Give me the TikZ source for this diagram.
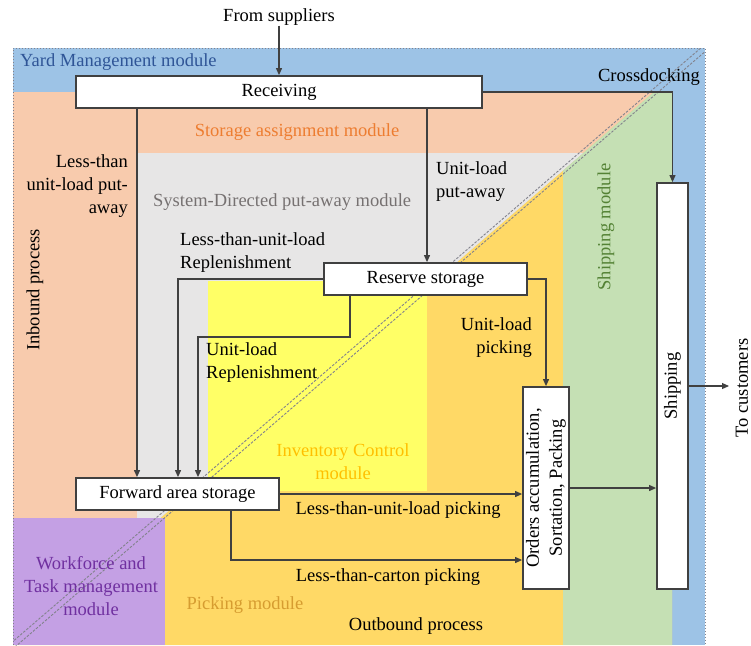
\documentclass[tikz,border=0pt]{standalone}
\usepackage{fontspec}
\setmainfont{LiberationSerif}[Extension=.ttf, UprightFont=*-Regular, BoldFont=*-Bold, ItalicFont=*-Italic, BoldItalicFont=*-BoldItalic]
\usetikzlibrary{arrows.meta}
\definecolor{cBlue}{RGB}{157,195,230}
\definecolor{cSalmon}{RGB}{248,203,173}
\definecolor{cGray}{RGB}{231,230,230}
\definecolor{cYellow}{RGB}{255,255,102}
\definecolor{cOrange}{RGB}{255,217,102}
\definecolor{cGreen}{RGB}{197,224,180}
\definecolor{cPurple}{RGB}{196,160,228}
\definecolor{tYard}{RGB}{47,85,151}
\definecolor{tStor}{RGB}{237,125,49}
\definecolor{tSys}{RGB}{118,113,113}
\definecolor{tInv}{RGB}{255,192,0}
\definecolor{tShip}{RGB}{84,130,53}
\definecolor{tWork}{RGB}{112,48,160}
\definecolor{tPick}{RGB}{214,156,48}
\definecolor{lineC}{RGB}{64,64,64}
\definecolor{diagC}{RGB}{130,130,140}
\newcommand\mylbl{\fontsize{18.5}{23}\selectfont}
\begin{document}
\begin{tikzpicture}[x=1pt,y=-1pt,
  box/.style={draw=lineC, line width=1.8pt, fill=white, inner sep=0pt, font=\mylbl, align=center},
  conn/.style={draw=lineC, line width=1.1pt, -{Triangle[length=7pt,width=6pt]}},
  lbl/.style={font=\mylbl, inner sep=0pt},
  diagline/.style={draw=diagC, line width=0.9pt, dash pattern=on 2.5pt off 1.5pt}]
\useasboundingbox (0,0) rectangle (751,645);
% background regions
\fill[cBlue] (13,48) rectangle (705,645);
\fill[cSalmon] (13,92) -- (654,92) -- (13,645) -- cycle;
\fill[cOrange] (654,92) -- (672,92) -- (672,645) -- (13,645) -- cycle;
\begin{scope}
  \clip (13,92) -- (654,92) -- (13,645) -- cycle;
  \fill[cGray] (137,153) rectangle (672,645);
\end{scope}
\begin{scope}
  \clip (654,92) -- (672,92) -- (672,645) -- (13,645) -- cycle;
  \fill[cGreen] (563,92) rectangle (672,645);
\end{scope}
\fill[cYellow] (208,281) rectangle (427,491);
\fill[cPurple] (13,518) rectangle (165,645);
% diagonal double dashed line
\begin{scope}
  \clip (13,48) rectangle (705,645);
  \draw[diagline] (11.2,642.9) -- (703.2,45.9);
  \draw[diagline] (14.8,647.1) -- (706.8,50.1);
\end{scope}
% dotted frame
\draw[diagC, line width=1pt, dotted] (13,645) -- (13,48) -- (705,48) -- (705,645);

% boxes
\node[box, minimum width=406pt, minimum height=32pt] (rec) at (279,92) {Receiving};
\node[box, minimum width=203pt, minimum height=32pt] (res) at (425.5,279) {Reserve storage};
\node[box, minimum width=203pt, minimum height=32pt] (fas) at (177.5,494) {Forward area storage};
\node[box, rotate=90, minimum width=202pt, minimum height=46pt] (ord) at (546,488) {Orders accumulation,\\Sortation, Packing};
\node[box, rotate=90, minimum width=406pt, minimum height=31pt] (ship) at (672.5,386) {Shipping};

% labels
\node[lbl] (sup) at (279,17) {From suppliers};
\node[lbl, text=tYard, anchor=west] (yard) at (20,62) {Yard Management module};
\node[lbl, anchor=east] (cross) at (700,77) {Crossdocking};
\node[lbl, text=tStor] (stor) at (297,132) {Storage assignment module};
\node[lbl, align=right, anchor=east] (ltp) at (128,186) {Less-than\\unit-load put-\\away};
\node[lbl, text=tSys, anchor=west] (sys) at (153,202) {System-Directed put-away module};
\node[lbl, align=left, anchor=west] (ulp) at (436,182) {Unit-load\\put-away};
\node[lbl, align=left, anchor=west] (ltr) at (180,253) {Less-than-unit-load\\Replenishment};
\node[lbl, align=left, anchor=west] (ulr) at (206,363) {Unit-load\\Replenishment};
\node[lbl, align=center, text=tInv] (inv) at (343,462) {Inventory Control\\module};
\node[lbl, align=right, anchor=east] (ulpk) at (532,338) {Unit-load\\picking};
\node[lbl] (ltpk) at (398,510) {Less-than-unit-load picking};
\node[lbl] (ltc) at (388,577) {Less-than-carton picking};
\node[lbl] (outb) at (416,626) {Outbound process};
\node[lbl, text=tPick] (pickm) at (245,605) {Picking module};
\node[lbl, align=center, text=tWork] (work) at (91,586) {Workforce and\\Task management\\module};
\node[lbl, rotate=90] (inb) at (35,290) {Inbound process};
\node[lbl, rotate=90, text=tShip] (shipm) at (606,227) {Shipping module};
\node[lbl, rotate=90] (cust) at (742,388) {To customers};

% helper coordinates
\coordinate (xa) at (137,0);
\coordinate (xb) at (178,0);
\coordinate (xc) at (198,0);
\coordinate (xd) at (427,0);
\coordinate (k1) at (350,337);
\coordinate (k2) at (231,560);
\coordinate (k3) at (729,0);

% connectors
\draw[conn] (sup.south) -- (rec.north -| sup.south);
\draw[conn] (rec.east) -| (ship.east);
\draw[conn] (rec.south -| xa) -- (fas.north -| xa);
\draw[conn] (rec.south -| xd) -- (res.north -| xd);
\draw[conn] (res.west) -| (fas.north -| xb);
\draw[conn] (res.south -| k1) -- (k1) -| (fas.north -| xc);
\draw[conn] (res.east) -| (ord.east);
\draw[conn] (fas.east) -- (fas.east -| ord.north);
\draw[conn] (fas.south -| k2) -- (k2) -- (k2 -| ord.north);
\draw[conn] (ord.south) -- (ord.south -| ship.north);
\draw[conn] (ship.south) -- (ship.south -| k3);
\end{tikzpicture}
\end{document}
